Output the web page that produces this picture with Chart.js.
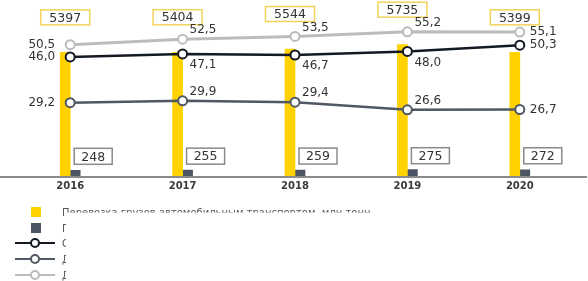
<!DOCTYPE html>
<html>
<head>
<meta charset="utf-8">
<script src="https://cdn.jsdelivr.net/npm/chart.js@4"></script>
<style>
  html, body { margin: 0; padding: 0; background: #fff; }
  #wrap { width: 588px; height: 281px; }
</style>
</head>
<body>
<div id="wrap"><canvas id="chart" width="588" height="281"></canvas></div>
<script>
const years = ['2016', '2017', '2018', '2019', '2020'];
const cargoTons = [5397, 5404, 5544, 5735, 5399];
const turnover = [248, 255, 259, 275, 272];
const distance = [46.0, 47.1, 46.7, 48.0, 50.3];
const shareA = [29.2, 29.9, 29.4, 26.6, 26.7];
const shareB = [50.5, 52.5, 53.5, 55.2, 55.1];
const legendLabels = [
    'Перевозка грузов автомобильным транспортом, млн тонн',
    'Грузооборот автомобильного транспорта, млрд т·км',
    'Средняя дальность перевозки, км',
    'Доля, %',
    'Доля, %'
];

const YELLOW = '#ffd200';
const DARK = '#4b5563';
const BLACK = '#141a24';
const MID = '#4f5863';
const LIGHT = '#bcbcbc';
const FONT = '"DejaVu Sans", sans-serif';

function fmt(v) {
    return v.toFixed(1).replace('.', ',');
}

function box(ctx, cx, cy, w, h, border, text) {
    ctx.fillStyle = '#fff';
    ctx.fillRect(cx - w / 2, cy - h / 2, w, h);
    ctx.strokeStyle = border;
    ctx.lineWidth = 1.5;
    ctx.strokeRect(cx - w / 2, cy - h / 2, w, h);
    ctx.fillStyle = '#333';
    ctx.textAlign = 'center';
    ctx.textBaseline = 'middle';
    ctx.fillText(text, cx, cy + 1);
}

const labelsPlugin = {
    id: 'labels',
    afterDatasetsDraw(chart) {
        const ctx = chart.ctx;
        const area = chart.chartArea;
        ctx.save();

        // axis line across the whole width
        ctx.strokeStyle = '#8a8a8a';
        ctx.lineWidth = 2;
        ctx.beginPath();
        ctx.moveTo(0, area.bottom + 1);
        ctx.lineTo(587, area.bottom + 1);
        ctx.stroke();

        ctx.font = '12.5px ' + FONT;

        // bar value boxes
        chart.getDatasetMeta(0).data.forEach((bar, i) => {
            box(ctx, bar.x, bar.y - 35, 49, 15, '#f3d35a', String(cargoTons[i]));
        });
        chart.getDatasetMeta(1).data.forEach((bar, i) => {
            box(ctx, bar.x + 18, bar.y - 14, 38, 16, '#8a8a8a', String(turnover[i]));
        });

        // line value labels
        const lines = [
            { idx: 2, values: distance, below: true },
            { idx: 3, values: shareA, below: false },
            { idx: 4, values: shareB, below: false }
        ];
        ctx.font = '12px ' + FONT;
        ctx.fillStyle = '#333';
        ctx.textBaseline = 'middle';
        lines.forEach(l => {
            const pts = chart.getDatasetMeta(l.idx).data;
            pts.forEach((p, i) => {
                const t = fmt(l.values[i]);
                if (i === 0) {
                    ctx.textAlign = 'right';
                    ctx.fillText(t, p.x - 15, p.y);
                } else if (i === pts.length - 1) {
                    ctx.textAlign = 'left';
                    ctx.fillText(t, p.x + 10, p.y);
                } else {
                    ctx.textAlign = 'left';
                    ctx.fillText(t, p.x + 7, l.below ? p.y + 11 : p.y - 9);
                }
            });
        });

        // legend
        const rows = [212, 228, 243, 259, 275];
        ctx.fillStyle = YELLOW;
        ctx.fillRect(31, rows[0] - 5, 10, 10);
        ctx.fillStyle = DARK;
        ctx.fillRect(31, rows[1] - 5, 10, 10);
        [BLACK, MID, LIGHT].forEach((c, k) => {
            const y = rows[k + 2];
            ctx.strokeStyle = c;
            ctx.lineWidth = 2;
            ctx.beginPath();
            ctx.moveTo(15, y);
            ctx.lineTo(55, y);
            ctx.stroke();
            ctx.fillStyle = '#fff';
            ctx.beginPath();
            ctx.arc(35, y, 4, 0, Math.PI * 2);
            ctx.fill();
            ctx.stroke();
        });

        // legend text, partly covered as in the source picture
        ctx.beginPath();
        ctx.rect(0, 0, 588, 212.5);
        ctx.rect(0, 212.5, 66, 70);
        ctx.clip();
        ctx.font = '10px ' + FONT;
        ctx.fillStyle = '#555';
        ctx.textAlign = 'left';
        ctx.textBaseline = 'middle';
        legendLabels.forEach((t, k) => {
            ctx.fillText(t, 62, rows[k] + 1);
        });

        ctx.restore();
    }
};

function lineSet(data, color, width) {
    return {
        type: 'line',
        data: data,
        yAxisID: 'y1',
        borderColor: color,
        borderWidth: width,
        pointRadius: 4.5,
        pointBorderWidth: 2,
        pointBackgroundColor: '#fff',
        pointBorderColor: color,
        tension: 0,
        order: 0
    };
}

new Chart(document.getElementById('chart'), {
    type: 'bar',
    data: {
        labels: years,
        datasets: [
            { data: cargoTons, backgroundColor: YELLOW, barThickness: 10, yAxisID: 'y', order: 1 },
            { data: turnover, backgroundColor: DARK, barThickness: 10, yAxisID: 'y', order: 1 },
            lineSet(distance, BLACK, 2.5),
            lineSet(shareA, MID, 2.5),
            lineSet(shareB, LIGHT, 3)
        ]
    },
    options: {
        responsive: false,
        animation: false,
        layout: { padding: { left: 14, right: 12, top: 0, bottom: 85 } },
        plugins: { legend: { display: false }, tooltip: { enabled: false } },
        scales: {
            x: {
                grid: { display: false, drawTicks: false },
                border: { display: false },
                ticks: { padding: 4, color: '#3a3a3a', font: { family: FONT, size: 10, weight: 'bold' } }
            },
            y: { display: false, min: 0, max: 7400 },
            y1: { display: false, min: 2.3, max: 64.5 }
        }
    },
    plugins: [labelsPlugin]
});
</script>
</body>
</html>
